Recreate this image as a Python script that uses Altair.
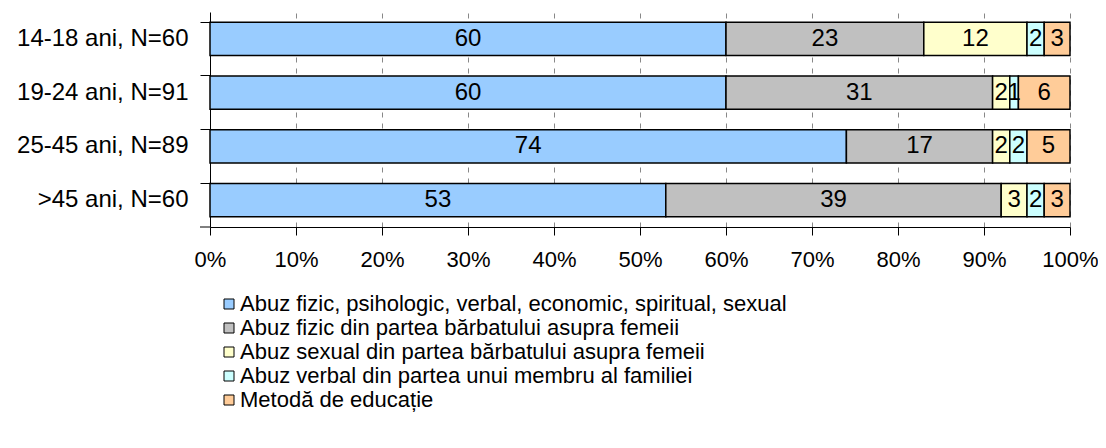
import altair as alt
import pandas as pd

categories = ["14-18 ani, N=60", "19-24 ani, N=91", "25-45 ani, N=89", ">45 ani, N=60"]
series = [
    "Abuz fizic, psihologic, verbal, economic, spiritual, sexual",
    "Abuz fizic din partea bărbatului asupra femeii",
    "Abuz sexual din partea bărbatului asupra femeii",
    "Abuz verbal din partea unui membru al familiei",
    "Metodă de educație",
]
values = [
    [60, 23, 12, 2, 3],
    [60, 31, 2, 1, 6],
    [74, 17, 2, 2, 5],
    [53, 39, 3, 2, 3],
]
colors = ["#99CCFF", "#C0C0C0", "#FFFFCC", "#CCFFFF", "#FFCC99"]

rows = []
for ci, c in enumerate(categories):
    for si, s in enumerate(series):
        rows.append({"cat": c, "series": s, "idx": si, "value": values[ci][si]})
df = pd.DataFrame(rows)

FONT = "Liberation Sans"
W, H = 860, 215

base = alt.Chart(df).transform_stack(
    stack="value", groupby=["cat"], as_=["v0", "v1"],
    sort=[alt.SortField("idx", order="ascending")], offset="normalize"
).transform_calculate(mid="(datum.v0 + datum.v1) / 2")

yenc = alt.Y("cat:N", sort=categories, title=None,
             scale=alt.Scale(paddingInner=0.38, paddingOuter=0.19),
             axis=alt.Axis(bandPosition=0, tickSize=10, labelPadding=12,
                           labelFontSize=24, labelFont=FONT, labelColor="black",
                           domainColor="black", tickColor="black", grid=False))

bars = base.mark_bar(stroke="black", strokeWidth=1.5).encode(
    x=alt.X("v0:Q", scale=alt.Scale(domain=[0, 1]), title=None,
            axis=alt.Axis(format="%", values=[i / 10 for i in range(11)],
                          tickSize=8, labelPadding=14, labelFontSize=22,
                          labelFont=FONT, labelColor="black",
                          labelFlush=False, labelOverlap=False,
                          domainColor="black", tickColor="black",
                          grid=True, gridColor="#888888", gridDash=[5, 6],
                          gridWidth=1)),
    x2="v1:Q",
    y=yenc,
    color=alt.Color("series:N", sort=series,
                    scale=alt.Scale(domain=series, range=colors),
                    legend=alt.Legend(title=None, orient="none", legendX=8,
                                      legendY=281, symbolType="square",
                                      symbolSize=100, symbolStrokeColor="black",
                                      symbolStrokeWidth=1, labelFontSize=22,
                                      labelFont=FONT, labelColor="black",
                                      rowPadding=2, labelOffset=0,
                                      labelLimit=900)),
)

labels = base.mark_text(fontSize=24, font=FONT, color="black").encode(
    x="mid:Q",
    y=alt.Y("cat:N", sort=categories),
    text="value:Q",
)

bottom_tick = alt.Chart(pd.DataFrame({"a": [0]})).mark_rule(color="black").encode(
    x=alt.value(-10), x2=alt.value(0), y=alt.value(H)
)

chart = alt.layer(bars, labels, bottom_tick).properties(
    width=W, height=H,
    autosize=alt.AutoSizeParams(type="none"),
    padding={"left": 202, "top": 4, "right": 28, "bottom": 195}
).configure_view(stroke=None)

chart.save("out.html", embed_options={"renderer": "svg", "actions": False})
